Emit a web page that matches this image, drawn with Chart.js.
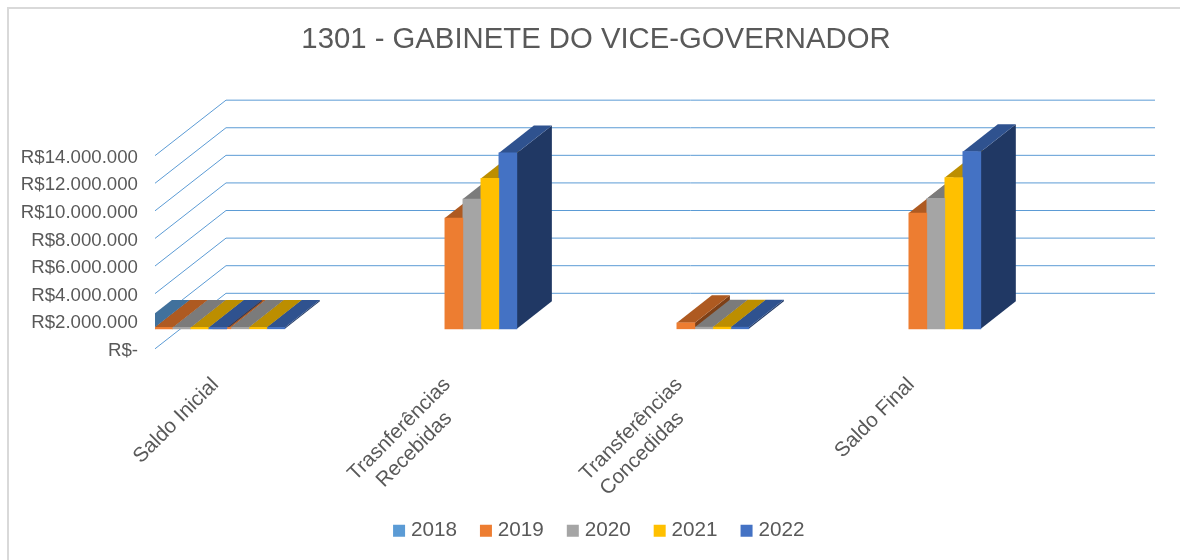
<!DOCTYPE html>
<html>
<head>
<meta charset="utf-8">
<title>1301 - GABINETE DO VICE-GOVERNADOR</title>
<script src="https://cdn.jsdelivr.net/npm/chart.js@4/dist/chart.umd.min.js"></script>
<style>
  html, body { margin: 0; padding: 0; background: #fff; }
  canvas { display: block; }
</style>
</head>
<body>
<canvas id="chart" width="1180" height="560"></canvas>
<script>
// Data
const categories = [['Saldo Inicial'], ['Trasnferências', 'Recebidas'], ['Transferências', 'Concedidas'], ['Saldo Final']];
const years = ['2018', '2019', '2020', '2021', '2022'];

// Last slot is the unlabelled low cluster that sits just left of "Saldo Inicial"
const slots = [0, 1, 2, 3, -0.25];
const values2018 = [null, null, null, null, 100000];
const values2019 = [100000, 8030000, 430000, 8390000, 100000];
const values2020 = [100000, 9400000, 120000, 9450000, 100000];
const values2021 = [100000, 10900000, 120000, 10970000, 100000];
const values2022 = [100000, 12750000, 120000, 12840000, 100000];
const seriesValues = [values2018, values2019, values2020, values2021, values2022];

const frontColors = ['#5B9BD5', '#ED7D31', '#A5A5A5', '#FFC000', '#4472C4'];
const topColors = ['#41719C', '#AE5A21', '#7B7B7B', '#BC8E00', '#2F528F'];
const sideColors = ['#2E5070', '#7E4017', '#585858', '#876600', '#203864'];

// Fake 3D: wall depth, how far the bars sit off the front plane, bar depth
const WALL_DX = 71, WALL_DY = -55.5, WALL_RIGHT_INSET = 17;
const BAR_SHIFT_X = 25.5, BAR_SHIFT_Y = -20;
const BAR_DX = 35, BAR_DY = -27.5;
const TEXT_COLOR = '#595959';

const poly = (ctx, color, pts) => {
  ctx.fillStyle = color;
  ctx.beginPath();
  pts.forEach((p, i) => i ? ctx.lineTo(p[0], p[1]) : ctx.moveTo(p[0], p[1]));
  ctx.closePath();
  ctx.fill();
};

const depthPlugin = {
  id: 'depth',
  afterLayout(chart) {
    // legend sits a little right of the title centre
    chart.legend.left += 10;
  },
  beforeDraw(chart) {
    const ctx = chart.ctx;
    // outer frame, only top and left are in the picture
    ctx.save();
    ctx.strokeStyle = '#D9D9D9';
    ctx.lineWidth = 2;
    ctx.beginPath();
    ctx.moveTo(8, 560);
    ctx.lineTo(8, 8);
    ctx.lineTo(1180, 8);
    ctx.stroke();
    ctx.restore();
  },
  beforeDatasetsDraw(chart) {
    const { ctx, chartArea, scales } = chart;
    const strayIndex = slots.length - 1;

    // walls
    ctx.save();
    ctx.strokeStyle = '#5B9BD5';
    ctx.lineWidth = 1;
    scales.y.ticks.forEach(t => {
      const y = scales.y.getPixelForValue(t.value);
      ctx.beginPath();
      ctx.moveTo(chartArea.left, y);
      ctx.lineTo(chartArea.left + WALL_DX, y + WALL_DY);
      ctx.lineTo(chartArea.right - WALL_RIGHT_INSET, y + WALL_DY);
      ctx.stroke();
    });
    ctx.restore();

    // bars are shifted into the depth of the floor and cut at the left wall
    ctx.save();
    ctx.beginPath();
    ctx.rect(chartArea.left, 0, chart.width - chartArea.left, chart.height);
    ctx.clip();
    ctx.translate(BAR_SHIFT_X, BAR_SHIFT_Y);

    // side and top faces, painted left to right, the unlabelled cluster goes last
    const order = slots.map((s, i) => i).filter(i => i !== strayIndex).concat(strayIndex);
    order.forEach(i => {
      seriesValues.forEach((vals, ds) => {
        if (vals[i] === null) return;
        const el = chart.getDatasetMeta(ds).data[i];
        const l = el.x - el.width / 2, r = el.x + el.width / 2;
        poly(ctx, sideColors[ds], [[r, el.base], [r + BAR_DX, el.base + BAR_DY], [r + BAR_DX, el.y + BAR_DY], [r, el.y]]);
        poly(ctx, topColors[ds], [[l, el.y], [l + BAR_DX, el.y + BAR_DY], [r + BAR_DX, el.y + BAR_DY], [r, el.y]]);
      });
    });
  },
  afterDatasetsDraw(chart) {
    const ctx = chart.ctx;
    // front strip of the unlabelled cluster lies over Saldo Inicial
    seriesValues.forEach((vals, ds) => {
      chart.getDatasetMeta(ds).data[slots.length - 1].draw(ctx);
    });
    ctx.restore();
  }
};

const datasets = years.map((year, ds) => ({
  label: year,
  data: slots.map((x, i) => ({ x: x, y: seriesValues[ds][i] })),
  backgroundColor: frontColors[ds],
  borderWidth: 0,
  barThickness: 18,
  clip: false
}));

new Chart(document.getElementById('chart'), {
  type: 'bar',
  data: { datasets: datasets },
  plugins: [depthPlugin],
  options: {
    responsive: false,
    animation: false,
    layout: { padding: { left: 20, right: 8, top: 0, bottom: 9 } },
    plugins: {
      title: {
        display: true,
        text: '1301 - GABINETE DO VICE-GOVERNADOR',
        color: TEXT_COLOR,
        font: { family: '"Liberation Sans"', size: 29.3, weight: 'normal' },
        padding: { top: 22, bottom: 98.5 }
      },
      legend: {
        position: 'bottom',
        labels: {
          color: TEXT_COLOR,
          font: { family: '"Liberation Sans"', size: 20.7 },
          usePointStyle: true,
          pointStyle: 'rect',
          boxWidth: 3,
          boxHeight: 12,
          padding: 27.5
        }
      },
      tooltip: { enabled: false }
    },
    scales: {
      x: {
        type: 'linear',
        offset: false,
        min: -0.256,
        max: 4.128,
        grid: { display: false },
        border: { display: false },
        afterBuildTicks: axis => { axis.ticks = categories.map((c, i) => ({ value: i })); },
        afterFit: axis => { axis.height = 144; },
        ticks: {
          color: TEXT_COLOR,
          font: { family: '"Liberation Sans"', size: 20.6 },
          autoSkip: false,
          minRotation: 45,
          maxRotation: 45,
          labelOffset: 1,
          padding: 16,
          callback: value => {
            const lines = categories[value];
            if (!lines) return '';
            // second line is centred under the first in the picture
            return lines.length > 1 ? [lines[0], lines[1] + '    '] : lines[0];
          }
        }
      },
      y: {
        min: 0,
        max: 14000000,
        grid: { display: false },
        border: { display: false },
        afterFit: axis => { axis.width = 135; },
        ticks: {
          stepSize: 2000000,
          color: TEXT_COLOR,
          font: { family: '"Liberation Sans"', size: 18.67 },
          padding: 9,
          labelOffset: 2,
          callback: value => value === 0 ? 'R$-' : 'R$' + String(value).replace(/\B(?=(\d{3})+$)/g, '.')
        }
      }
    }
  }
});
</script>
</body>
</html>
